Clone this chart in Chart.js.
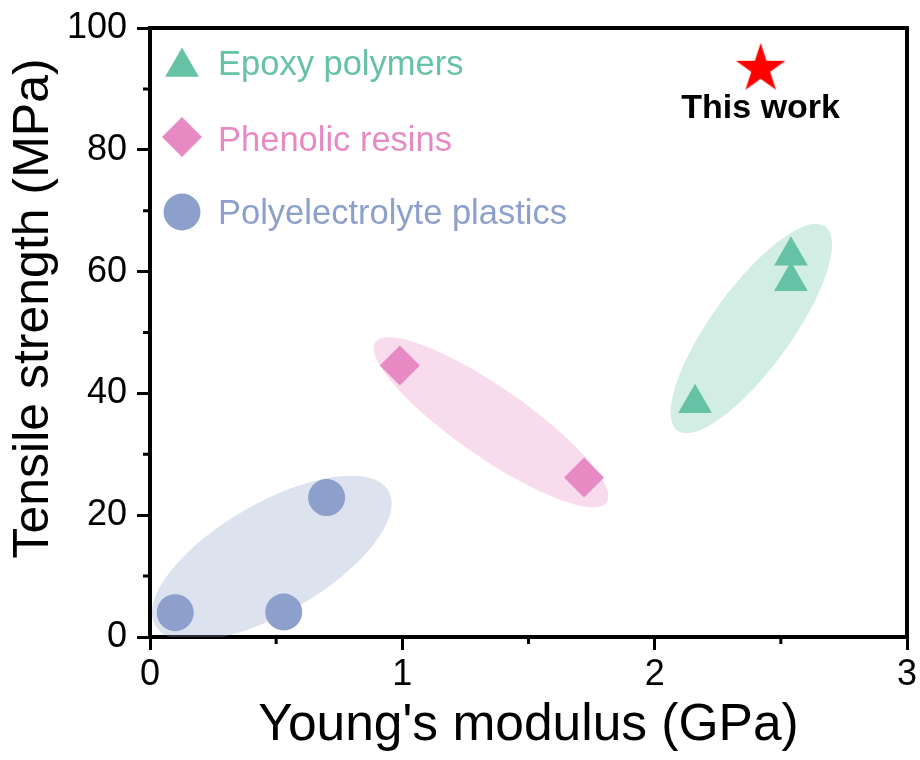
<!DOCTYPE html>
<html>
<head>
<meta charset="utf-8">
<script src="https://cdn.jsdelivr.net/npm/chart.js@4.4.1/dist/chart.umd.min.js"></script>
<style>
  body { margin: 0; background: #fff; }
  #wrap { width: 920px; height: 760px; }
</style>
</head>
<body>
<div id="wrap"><canvas id="scatterChart" width="920" height="760"></canvas></div>
<script>
// values
var epoxyX = [2.16, 2.54, 2.54];
var epoxyY = [38.4, 62.6, 58.4];
var phenolicX = [0.99, 1.72];
var phenolicY = [44.6, 26.2];
var polyX = [0.10, 0.53, 0.70];
var polyY = [4.0, 4.1, 22.9];
var thisWorkX = [2.42];
var thisWorkY = [93.3];

var seriesNames = ['Epoxy polymers', 'Phenolic resins', 'Polyelectrolyte plastics'];
var xTicks = [0, 1, 2, 3];
var yTicks = [0, 20, 40, 60, 80, 100];
var xMinor = [0.5, 1.5, 2.5];
var yMinor = [10, 30, 50, 70, 90];

// highlight ellipses: ends of the long axis (data units)
var ellipseEnds = [
    [[0.02, 1.9], [0.945, 24.0]],
    [[0.893, 48.4], [1.81, 22.1]],
    [[2.09, 33.9], [2.676, 67.4]]
];

var green = '#66c2a5', pink = '#e78ac3', blue = '#8da0cb';
var ellipseStyle = [
    { half: 55, color: 'rgba(141,160,203,0.30)' },
    { half: 35, color: 'rgba(231,138,195,0.30)' },
    { half: 40, color: 'rgba(102,194,165,0.30)' }
];
var FONT = "'Liberation Sans', Arial, sans-serif";

function toPoints(xs, ys) {
    return xs.map(function(x, i) { return {x: x, y: ys[i]}; });
}

function makeStar(R, color) {
    var c = document.createElement('canvas');
    c.width = c.height = Math.ceil(2 * R + 4);
    var g = c.getContext('2d');
    g.translate(c.width / 2, c.height / 2);
    g.beginPath();
    for (var i = 0; i < 10; i++) {
        var r = i % 2 ? R * 0.382 : R;
        var a = -Math.PI / 2 + i * Math.PI / 5;
        if (i === 0) g.moveTo(r * Math.cos(a), r * Math.sin(a));
        else g.lineTo(r * Math.cos(a), r * Math.sin(a));
    }
    g.closePath();
    g.fillStyle = color;
    g.fill();
    return c;
}

function drawMarker(ctx, style, x, y, r, color) {
    ctx.beginPath();
    if (style === 'triangle') {
        for (var i = 0; i < 3; i++) {
            var a = i * 2 * Math.PI / 3;
            var px = x + Math.sin(a) * r, py = y - Math.cos(a) * r;
            if (i === 0) ctx.moveTo(px, py); else ctx.lineTo(px, py);
        }
        ctx.closePath();
    } else if (style === 'rectRot') {
        ctx.moveTo(x - r, y); ctx.lineTo(x, y - r);
        ctx.lineTo(x + r, y); ctx.lineTo(x, y + r);
        ctx.closePath();
    } else {
        ctx.arc(x, y, r, 0, Math.PI * 2);
    }
    ctx.fillStyle = color;
    ctx.fill();
}

var ellipsePlugin = {
    id: 'ellipses',
    beforeDatasetsDraw: function(chart) {
        var ctx = chart.ctx, xs = chart.scales.x, ys = chart.scales.y, area = chart.chartArea;
        ctx.save();
        ctx.beginPath();
        ctx.rect(area.left, area.top, area.right - area.left, area.bottom - area.top);
        ctx.clip();
        ellipseEnds.forEach(function(e, i) {
            var x1 = xs.getPixelForValue(e[0][0]), y1 = ys.getPixelForValue(e[0][1]);
            var x2 = xs.getPixelForValue(e[1][0]), y2 = ys.getPixelForValue(e[1][1]);
            var cx = (x1 + x2) / 2, cy = (y1 + y2) / 2;
            var a = Math.hypot(x2 - x1, y2 - y1) / 2;
            var ang = Math.atan2(y2 - y1, x2 - x1);
            ctx.beginPath();
            ctx.ellipse(cx, cy, a, ellipseStyle[i].half, ang, 0, Math.PI * 2);
            ctx.fillStyle = ellipseStyle[i].color;
            ctx.fill();
        });
        ctx.restore();
    }
};

var framePlugin = {
    id: 'frame',
    afterDraw: function(chart) {
        var ctx = chart.ctx, xs = chart.scales.x, ys = chart.scales.y, area = chart.chartArea;
        ctx.save();
        ctx.strokeStyle = '#000';
        ctx.lineWidth = 4;
        ctx.beginPath();
        ctx.moveTo(area.left - 2, area.top);
        ctx.lineTo(area.right, area.top);
        ctx.lineTo(area.right, area.bottom + 2);
        ctx.stroke();

        // minor ticks
        ctx.lineWidth = 3;
        ctx.beginPath();
        yMinor.forEach(function(v) {
            var py = ys.getPixelForValue(v);
            ctx.moveTo(area.left - 7, py); ctx.lineTo(area.left, py);
        });
        xMinor.forEach(function(v) {
            var px = xs.getPixelForValue(v);
            ctx.moveTo(px, area.bottom); ctx.lineTo(px, area.bottom + 7);
        });
        ctx.stroke();

        // y title
        ctx.fillStyle = '#000';
        ctx.font = '50px ' + FONT;
        ctx.textAlign = 'center';
        ctx.textBaseline = 'middle';
        ctx.translate(34, (area.top + area.bottom) / 2 - 24);
        ctx.rotate(-Math.PI / 2);
        ctx.fillText('Tensile strength (MPa)', 0, 0);
        ctx.setTransform(1, 0, 0, 1, 0, 0);

        // legend inside plot
        var styles = ['triangle', 'rectRot', 'circle'];
        var colors = [green, pink, blue];
        var radii = [19.5, 20, 18.5];
        var markY = [67, 137, 212];
        var textY = [75, 151, 224];
        ctx.font = '34.5px ' + FONT;
        ctx.textAlign = 'left';
        ctx.textBaseline = 'alphabetic';
        for (var i = 0; i < 3; i++) {
            drawMarker(ctx, styles[i], area.left + 32, markY[i], radii[i], colors[i]);
            ctx.fillStyle = colors[i];
            ctx.fillText(seriesNames[i], area.left + 68, textY[i]);
        }

        // label for the star
        var sx = xs.getPixelForValue(thisWorkX[0]), sy = ys.getPixelForValue(thisWorkY[0]);
        ctx.fillStyle = '#000';
        ctx.font = 'bold 34px ' + FONT;
        ctx.textAlign = 'center';
        ctx.fillText('This work', sx, sy + 49);
        ctx.restore();
    }
};

var ctxS = document.getElementById('scatterChart').getContext('2d');
var scatterChart = new Chart(ctxS, {
    type: 'scatter',
    data: {
        datasets: [
            {
                label: seriesNames[0],
                data: toPoints(epoxyX, epoxyY),
                pointStyle: 'triangle',
                pointRadius: 19.5,
                backgroundColor: green,
                borderWidth: 0
            },
            {
                label: seriesNames[1],
                data: toPoints(phenolicX, phenolicY),
                pointStyle: 'rectRot',
                pointRadius: 20,
                backgroundColor: pink,
                borderWidth: 0
            },
            {
                label: seriesNames[2],
                data: toPoints(polyX, polyY),
                pointStyle: 'circle',
                pointRadius: 18.5,
                backgroundColor: blue,
                borderWidth: 0
            },
            {
                label: 'This work',
                data: toPoints(thisWorkX, thisWorkY),
                pointStyle: makeStar(26, '#ff0000'),
                pointRadius: 26,
                backgroundColor: '#ff0000',
                borderWidth: 0
            }
        ]
    },
    options: {
        responsive: false,
        animation: false,
        events: [],
        layout: { autoPadding: false, padding: { top: 28, right: 13, left: 0, bottom: 0 } },
        plugins: {
            legend: { display: false },
            tooltip: { enabled: false }
        },
        scales: {
            x: {
                type: 'linear',
                min: 0,
                max: 3,
                afterFit: function(scale) {
                    scale.height = 123;
                    scale.paddingRight = 0;
                },
                afterBuildTicks: function(scale) {
                    scale.ticks = xTicks.map(function(v) { return {value: v}; });
                },
                ticks: { color: '#000', padding: 3, font: { family: FONT, size: 36 } },
                grid: { drawOnChartArea: false, tickLength: 13, tickWidth: 3, tickColor: '#000' },
                border: { display: true, width: 4, color: '#000' },
                title: {
                    display: true,
                    text: "Young's modulus (GPa)",
                    color: '#000',
                    font: { family: FONT, size: 51.5 },
                    padding: { top: 0, bottom: 3 }
                }
            },
            y: {
                min: 0,
                max: 100,
                afterFit: function(scale) {
                    scale.width = 150;
                    scale.paddingTop = 0;
                },
                afterBuildTicks: function(scale) {
                    scale.ticks = yTicks.map(function(v) { return {value: v}; });
                },
                ticks: { color: '#000', padding: 10, font: { family: FONT, size: 36 } },
                grid: { drawOnChartArea: false, tickLength: 13, tickWidth: 3, tickColor: '#000' },
                border: { display: true, width: 4, color: '#000' }
            }
        }
    },
    plugins: [ellipsePlugin, framePlugin]
});
</script>
</body>
</html>
